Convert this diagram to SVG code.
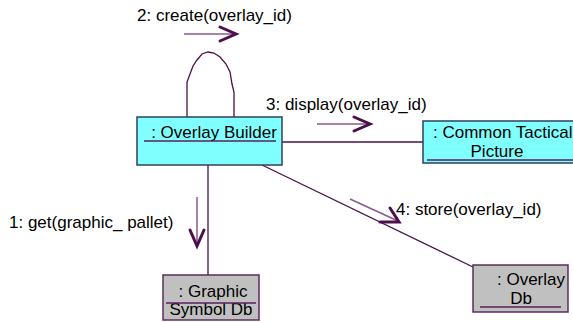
<svg xmlns="http://www.w3.org/2000/svg" width="573" height="322" viewBox="0 0 573 322">
<style>
text{font-family:"Liberation Sans",Arial,sans-serif;font-size:17px;fill:#000}
.conn{stroke:#4b0f4b;stroke-width:1.3;fill:none}
.msg{stroke:#8a5a8a;stroke-width:1.5;fill:none}
.head{stroke:#4b0f4b;stroke-width:3;fill:none;stroke-linecap:round;stroke-linejoin:miter}
.cyan{fill:#80ffff;stroke:#2f3f5f;stroke-width:1.5}
.gray{fill:#c0c0c0;stroke:#5a2f5a;stroke-width:1.5}
.ul{stroke:#5a1f5a;stroke-width:1.3}
</style>
<g id="connectors">
<path class="conn" d="M187,117 V82 L190,74 L193,66 L197,60 L202,54 L208,52 L214,53 L220,57 L226,64 L230,72 L232,84 L234,92 V117"/>
<line class="conn" x1="282" y1="142" x2="423" y2="142"/>
<line class="conn" x1="208" y1="165" x2="208" y2="275"/>
<line class="conn" x1="262" y1="165" x2="473" y2="267"/>
</g>
<g id="messages">
<line class="msg" x1="184" y1="34" x2="236" y2="34"/>
<polyline class="head" points="220,27 236,34 220,41"/>
<text x="137" y="21">2: create(overlay_id)</text>
<line class="msg" x1="317" y1="124" x2="370" y2="124"/>
<polyline class="head" points="354,117 370,124 354,131"/>
<text x="266" y="110">3: display(overlay_id)</text>
<line class="msg" x1="197" y1="197" x2="197" y2="245"/>
<polyline class="head" points="190,230 197,246 204,230"/>
<text x="9" y="228">1: get(graphic_ pallet)</text>
<line class="msg" x1="350" y1="199" x2="398" y2="221"/>
<polyline class="head" points="390,208 399,222 380,222"/>
<text x="396" y="215">4: store(overlay_id)</text>
</g>
<g id="overlay-builder">
<rect class="cyan" x="137" y="117" width="145" height="48"/>
<text x="214" y="138" text-anchor="middle">: Overlay Builder</text>
<line class="ul" x1="144" y1="141" x2="276" y2="141"/>
</g>
<g id="common-tactical-picture">
<rect class="cyan" x="423" y="121" width="160" height="42"/>
<text x="433" y="138">: Common Tactical</text>
<text x="497" y="157" text-anchor="middle">Picture</text>
<line class="ul" x1="427" y1="160" x2="573" y2="160"/>
</g>
<g id="graphic-symbol-db">
<rect class="gray" x="163" y="275" width="96" height="45"/>
<text x="213" y="297" text-anchor="middle">: Graphic</text>
<text x="211" y="315" text-anchor="middle">Symbol Db</text>
<line class="ul" x1="166" y1="303" x2="256" y2="303"/>
</g>
<g id="overlay-db">
<rect class="gray" x="473" y="265" width="95" height="47"/>
<text x="531" y="285" text-anchor="middle">: Overlay</text>
<text x="521" y="304" text-anchor="middle">Db</text>
<line class="ul" x1="480" y1="307" x2="561" y2="307"/>
</g>
</svg>
